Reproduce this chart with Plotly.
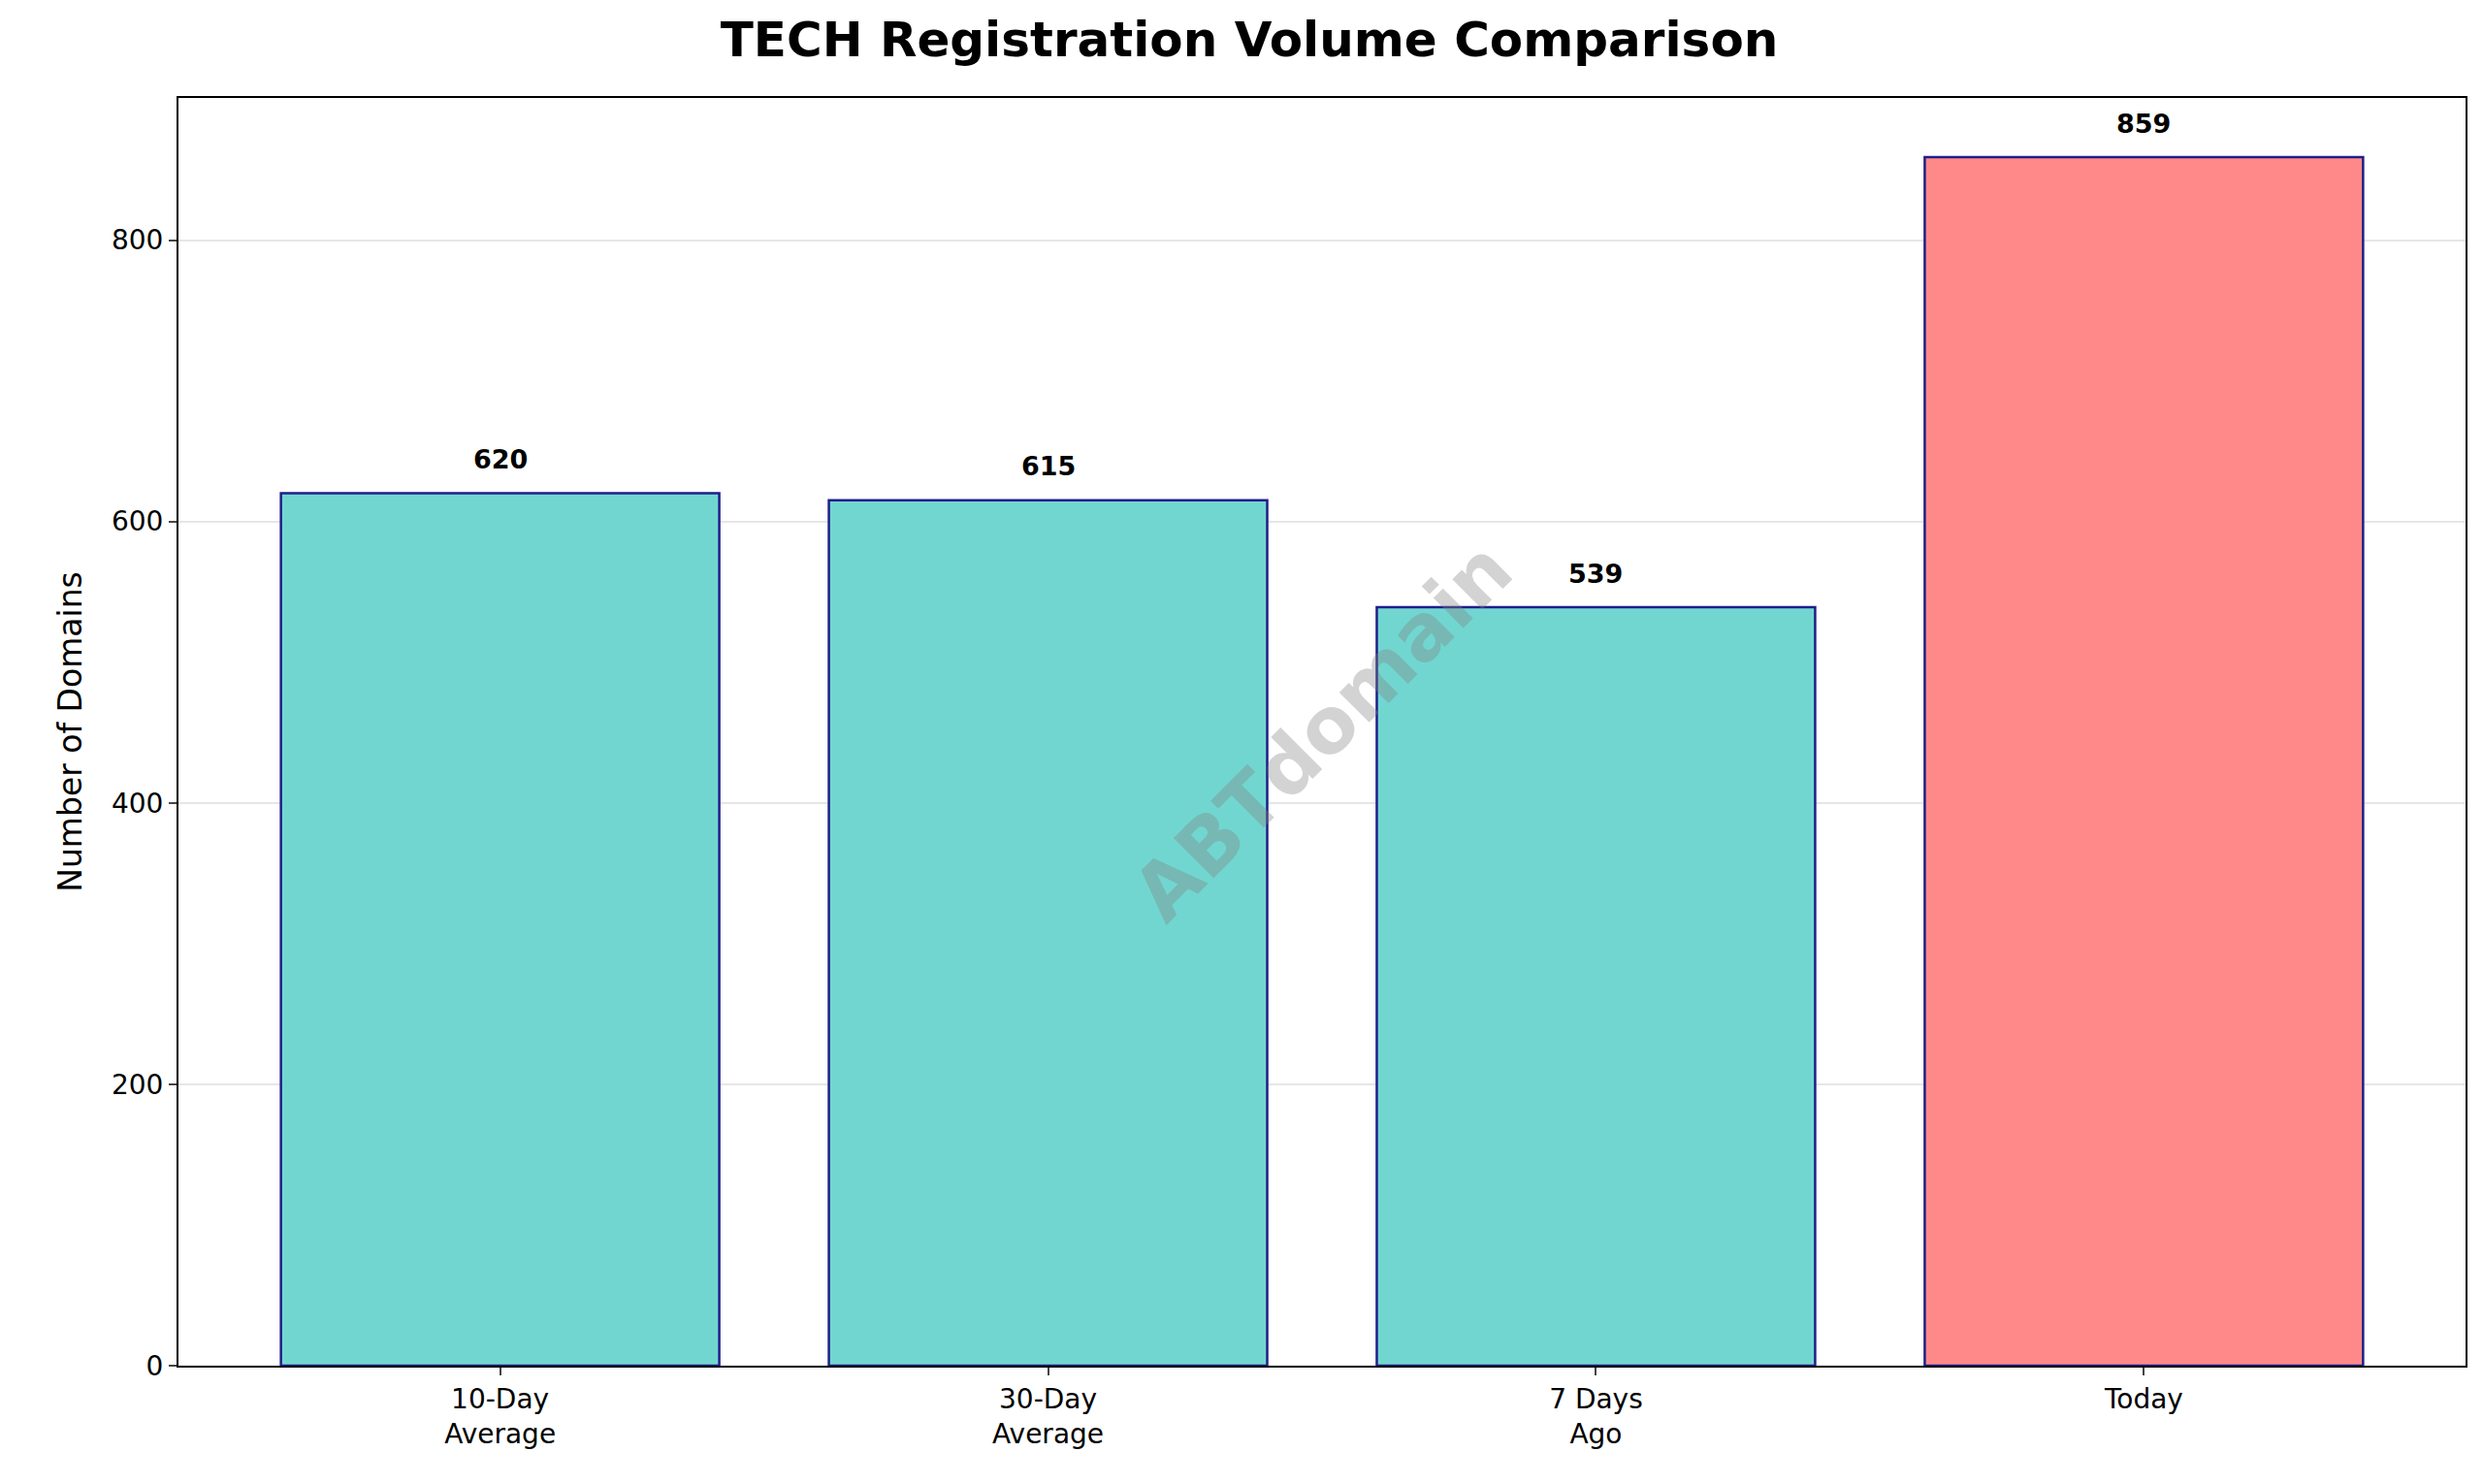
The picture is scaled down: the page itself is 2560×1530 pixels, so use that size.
import plotly.graph_objects as go

# Data
categories = ["10-Day<br>Average", "30-Day<br>Average", "7 Days<br>Ago", "Today"]
volumes = [620, 615, 539, 859]
bar_colors = ["#72D6D0", "#72D6D0", "#72D6D0", "#FF8989"]

fig = go.Figure()
fig.add_trace(go.Bar(
    x=categories,
    y=volumes,
    width=0.8,
    marker=dict(color=bar_colors, line=dict(color="#1F1F8A", width=2.5)),
    showlegend=False
))

# Value labels above bars
for cat, v in zip(categories, volumes):
    fig.add_annotation(x=cat, y=v + 12, text=f"<b>{v}</b>", showarrow=False,
                       yanchor="bottom", font=dict(size=27, color="black"))

# Watermark
fig.add_annotation(x=0.5, y=0.5, xref="paper", yref="paper", text="<b>ABTdomain</b>",
                   showarrow=False, textangle=-45,
                   font=dict(size=80, color="rgba(128,128,128,0.35)"))

fig.update_layout(
    width=2560, height=1530,
    font=dict(family="DejaVu Sans", color="black"),
    title=dict(text="<b>TECH Registration Volume Comparison</b>", x=0.5, xanchor="center",
               y=0.99, yanchor="top", font=dict(size=50)),
    plot_bgcolor="white", paper_bgcolor="white",
    margin=dict(l=176, r=26, t=93, b=130),
    xaxis=dict(range=[-0.587, 3.587], showline=True, linecolor="black", linewidth=2,
               mirror=True, ticks="outside", ticklen=8, tickwidth=2,
               tickfont=dict(size=28)),
    yaxis=dict(range=[0, 901], showline=True, linecolor="black", linewidth=2, mirror=True,
               ticks="outside", ticklen=8, tickwidth=2, tickvals=[0, 200, 400, 600, 800],
               tickfont=dict(size=28), gridcolor="#E6E6E6", gridwidth=1.5, zeroline=False,
               title=dict(text="Number of Domains", font=dict(size=33), standoff=20))
)

fig.write_html("out.html")
